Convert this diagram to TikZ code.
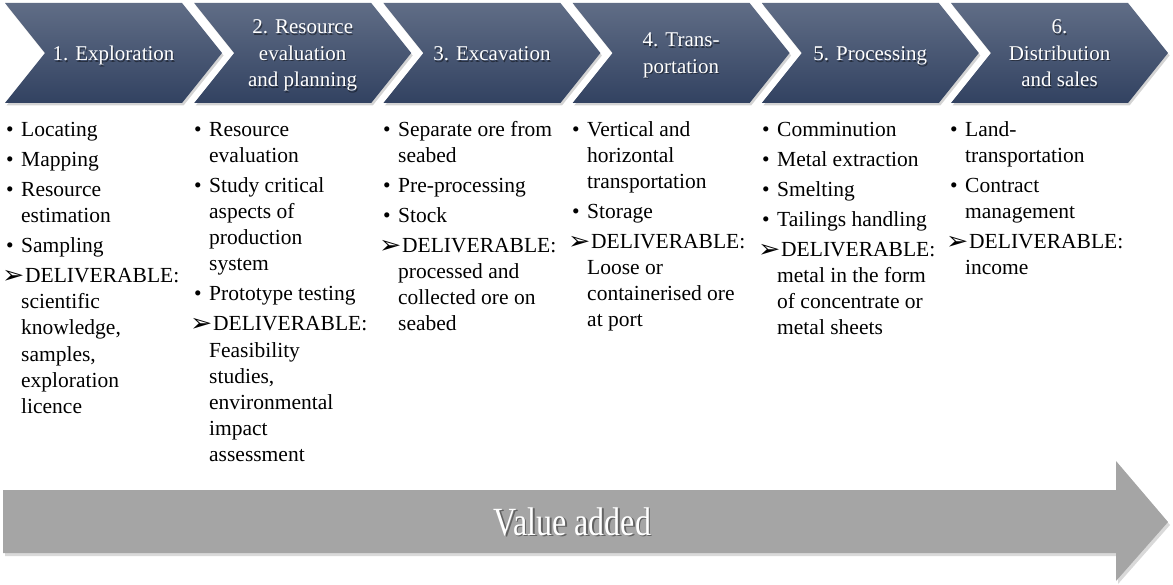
\documentclass[tikz,border=0pt]{standalone}
\usepackage{fontspec}
\setmainfont{Liberation Serif}
\newfontfamily\tnr{Liberation Serif}
\newfontfamily\dejavu{DejaVu Sans}
\usetikzlibrary{shadows}
\definecolor{chevtop}{RGB}{96,109,134}
\definecolor{chevbot}{RGB}{50,66,97}
\definecolor{arrowgray}{RGB}{165,165,165}
\newcommand\bfirst[1]{\hangindent=19bp\hangafter=1\noindent\makebox[19bp][l]{\hspace{4bp}\textbullet}#1}
\newcommand\bitem[1]{\par\vskip4bp\hangindent=19bp\hangafter=1\noindent\makebox[19bp][l]{\hspace{4bp}\textbullet}#1}
\newcommand\ditem[1]{\par\vskip4bp\hangindent=19bp\hangafter=1\noindent\makebox[23bp][l]{\raisebox{-0.5bp}{\scalebox{1.4}[1.3]{\dejavu\fontsize{19bp}{19bp}\selectfont ➢}}}#1}
\newcommand\colbox[1]{\parbox[t]{190bp}{\tnr\fontsize{21.5bp}{26bp}\selectfont #1}}
\newcommand\titlebox[1]{\parbox[t]{160bp}{\centering\tnr\fontsize{21bp}{26.5bp}\selectfont #1}}
\tikzset{
  chev/.style={top color=chevtop, bottom color=chevbot, drop shadow={opacity=0.35, shadow xshift=1.5bp, shadow yshift=-2.5bp}},
  title/.style={anchor=base, inner sep=0pt, text=white},
  titleshadow/.style={anchor=base, inner sep=0pt, text=black, opacity=0.45},
  col/.style={anchor=base west, inner sep=0pt},
}
\begin{document}
\begin{tikzpicture}[x=1bp,y=1bp]
\useasboundingbox (0,0) rectangle (1173,-585);
% chevrons
\foreach \i in {0,...,5}{
  \pgfmathsetmacro{\xo}{5+189.2*\i}
  \path[chev] (\xo,-3) -- ++(177,0) -- ++(40,-50) -- ++(-40,-50) -- ++(-177,0) -- ++(40,50) -- cycle;
}
% titles
\node[titleshadow] (t1s) at (114.5,-62.5) {\titlebox{1. Exploration}};
\node[title] (t1) at (113.5,-61) {\titlebox{1. Exploration}};
\node[titleshadow] (t2s) at (303.7,-35.5) {\titlebox{2. Resource\\evaluation\\and planning}};
\node[title] (t2) at (302.7,-34) {\titlebox{2. Resource\\evaluation\\and planning}};
\node[titleshadow] (t3s) at (492.9,-62.5) {\titlebox{3. Excavation}};
\node[title] (t3) at (491.9,-61) {\titlebox{3. Excavation}};
\node[titleshadow] (t4s) at (682.1,-48.5) {\titlebox{4. Trans-\\portation}};
\node[title] (t4) at (681.1,-47) {\titlebox{4. Trans-\\portation}};
\node[titleshadow] (t5s) at (871.3,-62.5) {\titlebox{5. Processing}};
\node[title] (t5) at (870.3,-61) {\titlebox{5. Processing}};
\node[titleshadow] (t6s) at (1060.5,-35.5) {\titlebox{6.\\Distribution\\and sales}};
\node[title] (t6) at (1059.5,-34) {\titlebox{6.\\Distribution\\and sales}};
% columns
\node[col] (c1) at (2,-137) {\colbox{%
\bfirst{Locating}
\bitem{Mapping}
\bitem{Resource\\estimation}
\bitem{Sampling}
\ditem{DELIVERABLE:\\scientific\\knowledge,\\samples,\\exploration\\licence}}};
\node[col] (c2) at (190,-137) {\colbox{%
\bfirst{Resource\\evaluation}
\bitem{Study critical\\aspects of\\production\\system}
\bitem{Prototype testing}
\ditem{DELIVERABLE:\\Feasibility\\studies,\\environmental\\impact\\assessment}}};
\node[col] (c3) at (379,-137) {\colbox{%
\bfirst{Separate ore from\\seabed}
\bitem{Pre-processing}
\bitem{Stock}
\ditem{DELIVERABLE:\\processed and\\collected ore on\\seabed}}};
\node[col] (c4) at (568,-137) {\colbox{%
\bfirst{Vertical and\\horizontal\\transportation}
\bitem{Storage}
\ditem{DELIVERABLE:\\Loose or\\containerised ore\\at port}}};
\node[col] (c5) at (758,-137) {\colbox{%
\bfirst{Comminution}
\bitem{Metal extraction}
\bitem{Smelting}
\bitem{Tailings handling}
\ditem{DELIVERABLE:\\metal in the form\\of concentrate or\\metal sheets}}};
\node[col] (c6) at (946,-137) {\colbox{%
\bfirst{Land-\\transportation}
\bitem{Contract\\management}
\ditem{DELIVERABLE:\\income}}};
% value added arrow
\path[fill=arrowgray, drop shadow={opacity=0.3, shadow xshift=2bp, shadow yshift=-3bp}]
  (3,-490) -- (1116,-490) -- (1116,-461) -- (1168,-522) -- (1116,-581) -- (1116,-553) -- (3,-553) -- cycle;
\node[anchor=base, inner sep=0pt, text=black, opacity=0.4] (vas) at (574,-536.5) {\scalebox{0.8}[1]{\tnr\fontsize{40bp}{40bp}\selectfont Value added}};
\node[anchor=base, inner sep=0pt, text=white] (va) at (572.5,-535) {\scalebox{0.8}[1]{\tnr\fontsize{40bp}{40bp}\selectfont Value added}};
\end{tikzpicture}
\end{document}
